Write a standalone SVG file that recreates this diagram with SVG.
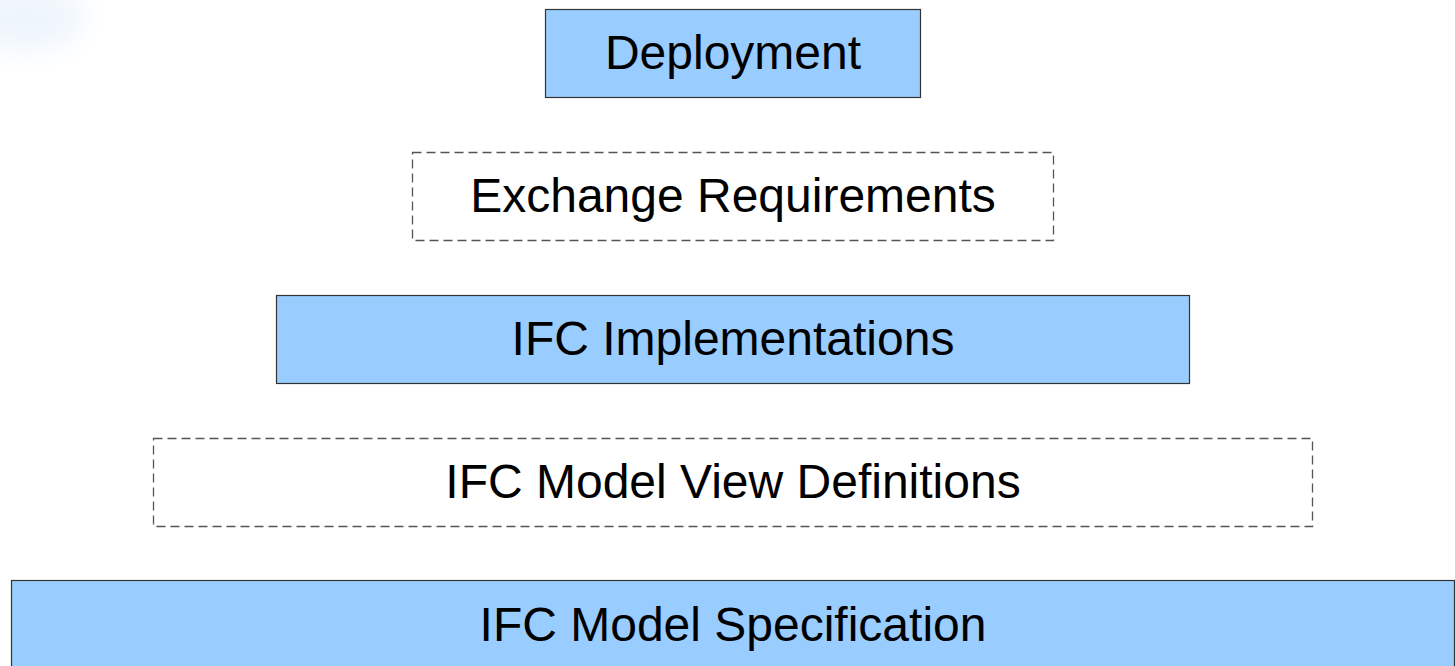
<svg xmlns="http://www.w3.org/2000/svg" width="1455" height="666" viewBox="0 0 1455 666">
<style>
.solid{fill:#99ccff;stroke:#333;stroke-width:1.2}
.dash{fill:#fff;stroke:#555;stroke-width:1.3;stroke-dasharray:9,5}
.lbl{font-family:"Liberation Sans",Arial,sans-serif;font-size:48px;fill:#000;text-anchor:middle;dominant-baseline:central}
</style>
<defs>
<filter id="blur" x="-50%" y="-50%" width="200%" height="200%"><feGaussianBlur stdDeviation="14"/></filter>
</defs>
<rect width="1455" height="666" fill="#fff"/>
<ellipse cx="25" cy="18" rx="60" ry="32" fill="#eef5fc" filter="url(#blur)"/>
<g id="deployment"><rect class="solid" x="545.5" y="9.5" width="375" height="88"/><text class="lbl" x="733" y="52">Deployment</text></g>
<g id="exchange-requirements"><rect class="dash" x="412.5" y="152.5" width="641" height="88"/><text class="lbl" x="733" y="195">Exchange Requirements</text></g>
<g id="ifc-implementations"><rect class="solid" x="276.5" y="295.5" width="913" height="88"/><text class="lbl" x="733" y="338">IFC Implementations</text></g>
<g id="ifc-mvd"><rect class="dash" x="153.5" y="438.5" width="1159" height="88"/><text class="lbl" x="733" y="481">IFC Model View Definitions</text></g>
<g id="ifc-model-spec"><rect class="solid" x="11.5" y="580.5" width="1443" height="100"/><text class="lbl" x="733" y="624">IFC Model Specification</text></g>
<g id="connectors"></g>
</svg>
